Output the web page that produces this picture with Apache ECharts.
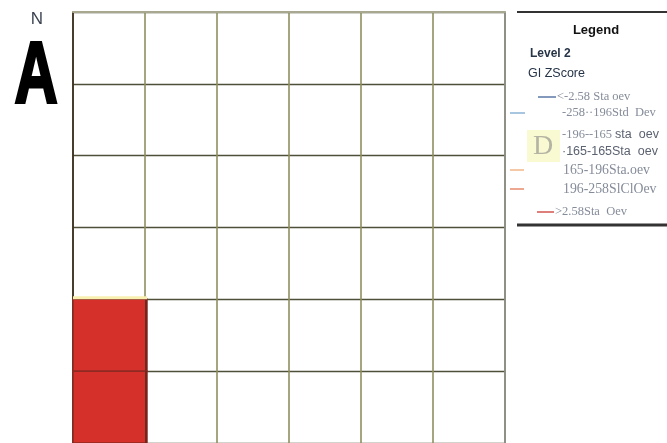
<!DOCTYPE html>
<html><head><meta charset="utf-8">
<script src="https://cdn.jsdelivr.net/npm/echarts@6/dist/echarts.min.js"></script>
<style>html,body{margin:0;padding:0;background:#fff}#c{width:667px;height:443px}</style>
</head><body><div id="c"></div>
<script>
// grid of 6x6 cells; rows counted from top
const columns = [0, 1, 2, 3, 4, 5];
const rows = [0, 1, 2, 3, 4, 5];
// hot-spot cells: [column, row, GiZScore class]
const cellCols = [0, 0];
const cellRows = [4, 5];
const cellClass = [6, 6];

const legendTitle = 'Legend';
const layerName = 'Level 2';
const fieldName = 'GI ZScore';
const classLabels = ['<-2.58 Sta oev', '-258··196Std  Dev', '-196--165 {s|sta  oev}', '{s|·165-165Sta  oev}', '165-196Sta.oev', '196-258SlClOev', '>2.58Sta  Oev'];
const classColors = ['#2f5690', '#6f9fcb', null, null, '#eea56a', '#df6f48', '#c82a24'];

const cellData = cellCols.map((c, i) => [c + 0.5, cellRows[i] + 0.5, cellClass[i]]);

const chart = echarts.init(document.getElementById('c'));

const legendGraphics = [];
const lx = 517;
legendGraphics.push({type:'line', shape:{x1:lx, y1:12, x2:667, y2:12}, style:{stroke:'#333', lineWidth:2}});
legendGraphics.push({type:'line', shape:{x1:lx, y1:225, x2:667, y2:225}, style:{stroke:'#333', lineWidth:3}});
legendGraphics.push({type:'text', x:596, y:30, style:{text:legendTitle, font:'bold 13px "Liberation Sans"', fill:'#111', align:'center', verticalAlign:'middle'}});
legendGraphics.push({type:'text', x:530, y:54, style:{text:layerName, font:'bold 12px "Liberation Sans"', fill:'#263447', verticalAlign:'middle'}});
legendGraphics.push({type:'text', x:528, y:74, style:{text:fieldName, font:'12.5px "Liberation Sans"', fill:'#263447', verticalAlign:'middle'}});
// symbol boxes
legendGraphics.push({type:'rect', shape:{x:527, y:130, width:33, height:32}, style:{fill:'#fafad2'}});
legendGraphics.push({type:'text', x:543, y:147, style:{text:'D', font:'28px "Liberation Serif"', fill:'#b4b4a4', align:'center', verticalAlign:'middle'}});
const entryY = [97, 113, 135, 152, 170, 189, 212];
const entryX = [557, 562, 562, 562, 563, 563, 555];
const entrySize = [12.5, 12.5, 12.5, 12.5, 13.8, 13.8, 12.5];
const lineX = [[538,556],[510,525],null,null,[510,524],[510,524],[537,554]];
classLabels.forEach((t, i) => {
  if (classColors[i] && lineX[i]) {
    legendGraphics.push({type:'line', shape:{x1:lineX[i][0], y1:entryY[i], x2:lineX[i][1], y2:entryY[i]}, style:{stroke:classColors[i], lineWidth:1.2}});
  }
  legendGraphics.push({type:'text', x:entryX[i], y:entryY[i], style:{text:t, font:entrySize[i] + 'px "Liberation Serif"', fill:'#858c99', verticalAlign:'middle',
    rich:{s:{fontFamily:'Liberation Sans', fontSize:12.5, fill:'#5b6270'}}}});
});
// north arrow
legendGraphics.push({type:'text', x:37, y:19, style:{text:'N', font:'17px "Liberation Sans"', fill:'#3c4452', align:'center', verticalAlign:'middle'}});
legendGraphics.push({type:'text', x:36, y:78, scaleX:0.68, style:{text:'A', font:'bold 88px "Liberation Sans"', fill:'#000', stroke:'#000', lineWidth:3, align:'center', verticalAlign:'middle'}});

chart.setOption({
  animation:false,
  grid:{left:73, top:12, width:432, height:432, containLabel:false},
  xAxis:[{type:'value', min:0, max:columns.length, interval:1, position:'top',
    axisLine:{show:true, onZero:false, lineStyle:{color:'#a8a890', width:2}}, axisTick:{show:false}, axisLabel:{show:false},
    splitLine:{show:true, lineStyle:{color:'#8f8f5f', width:1.6}}}],
  yAxis:[{type:'value', min:0, max:rows.length, interval:1, inverse:true, position:'left',
    axisLine:{show:true, onZero:false, lineStyle:{color:'#2a1a12', width:1.5}}, axisTick:{show:false}, axisLabel:{show:false},
    splitLine:{show:true, lineStyle:{color:'#50503a', width:1.3}}},
    {type:'value', min:0, max:rows.length, interval:1, inverse:true, position:'right',
    axisLine:{show:true, onZero:false, lineStyle:{color:'#8a8a8a', width:1.5}}, axisTick:{show:false}, axisLabel:{show:false}, splitLine:{show:false}}],
  series:[{type:'custom', coordinateSystem:'cartesian2d', xAxisIndex:0, yAxisIndex:0,
    data:cellData,
    renderItem:function(params, api){
      const cx = api.value(0), cy = api.value(1);
      const p0 = api.coord([cx - 0.5, cy - 0.5]);
      const p1 = api.coord([cx + 0.5, cy + 0.5]);
      const x = Math.min(p0[0], p1[0]), y = Math.min(p0[1], p1[1]);
      const w = Math.abs(p1[0]-p0[0]), h = Math.abs(p1[1]-p0[1]);
      const children = [
        {type:'rect', shape:{x:x, y:y, width:w+2, height:h}, style:{fill:'#d5302a', stroke:'#8e2a22', lineWidth:1.5}},
        {type:'line', shape:{x1:x+w+1, y1:y, x2:x+w+1, y2:y+h}, style:{stroke:'#6a2a1e', lineWidth:2}}
      ];
      const hasAbove = cellData.some(d => d[0] === cx && d[1] === cy - 1);
      if (!hasAbove) children.push({type:'line', shape:{x1:x, y1:y-1.5, x2:x+w+2, y2:y-1.5}, style:{stroke:'#f8f0b0', lineWidth:3}});
      return {type:'group', children:children};
    }, z:3}],
  graphic:legendGraphics
});
</script></body></html>
